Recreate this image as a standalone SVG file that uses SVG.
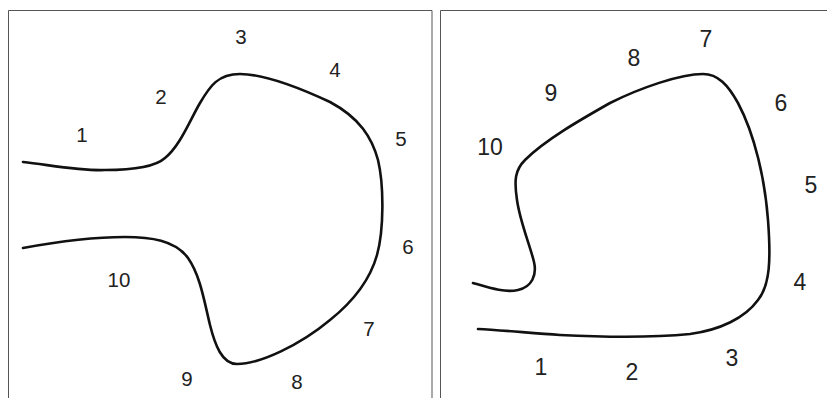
<svg xmlns="http://www.w3.org/2000/svg" width="827" height="398" viewBox="0 0 827 398">
<style>
.frame{fill:none;stroke:#555;stroke-width:1}
.curve{fill:none;stroke:#111;stroke-width:2.6;stroke-linecap:round;stroke-linejoin:round}
.lbl{font-family:"Liberation Sans",Arial,sans-serif;font-size:20.5px;fill:#222;text-anchor:middle}
.lbl2{font-family:"Liberation Sans",Arial,sans-serif;font-size:23px;fill:#222;text-anchor:middle}
</style>
<rect width="827" height="398" fill="#fff"/>
<g id="panel-left">
<path class="frame" d="M8.5,398 V10.5 H432 V398"/>
<path class="curve" d="M23,162 C50,165 80,171 105,170 C135,170 155,167 165,158 C180,146 190,120 200,103 C210,86 218,74 240,74 C265,74 300,88 330,102 C360,118 372,138 378,160 C384,185 384,230 377,255 C370,280 355,300 330,320 C300,345 260,364 237,364 C222,364 215,345 210,325 C204,300 200,275 188,258 C175,240 150,237 125,237 C90,237 50,243 23,248"/>
<text class="lbl" x="82" y="142.3">1</text>
<text class="lbl" x="161" y="104.3">2</text>
<text class="lbl" x="241" y="44">3</text>
<text class="lbl" x="335" y="77.3">4</text>
<text class="lbl" x="401" y="146.3">5</text>
<text class="lbl" x="408" y="254.3">6</text>
<text class="lbl" x="369" y="336.3">7</text>
<text class="lbl" x="297" y="389">8</text>
<text class="lbl" x="187" y="386.3">9</text>
<text class="lbl" x="119" y="287.3">10</text>
</g>
<g id="panel-right">
<path class="frame" d="M440.5,398 V10.5 H830"/>
<path class="curve" d="M473,283 C490,288 505,293 518,290 C532,287 537,275 534,262 C530,245 520,222 517,200 C514,180 515,170 525,160 C545,140 580,120 610,103 C640,88 680,74 703,74 C718,74 728,85 738,103 C755,135 765,180 768,220 C771,260 770,285 758,300 C745,318 720,330 690,334 C650,338 600,337 560,335 C530,333 500,330 478,329"/>
<text class="lbl2" x="541" y="375">1</text>
<text class="lbl2" x="632" y="380">2</text>
<text class="lbl2" x="732" y="365.6">3</text>
<text class="lbl2" x="800" y="290">4</text>
<text class="lbl2" x="811" y="193.3">5</text>
<text class="lbl2" x="781" y="111">6</text>
<text class="lbl2" x="706" y="46.6">7</text>
<text class="lbl2" x="634" y="66.3">8</text>
<text class="lbl2" x="551" y="101">9</text>
<text class="lbl2" x="490" y="155">10</text>
</g>
</svg>
